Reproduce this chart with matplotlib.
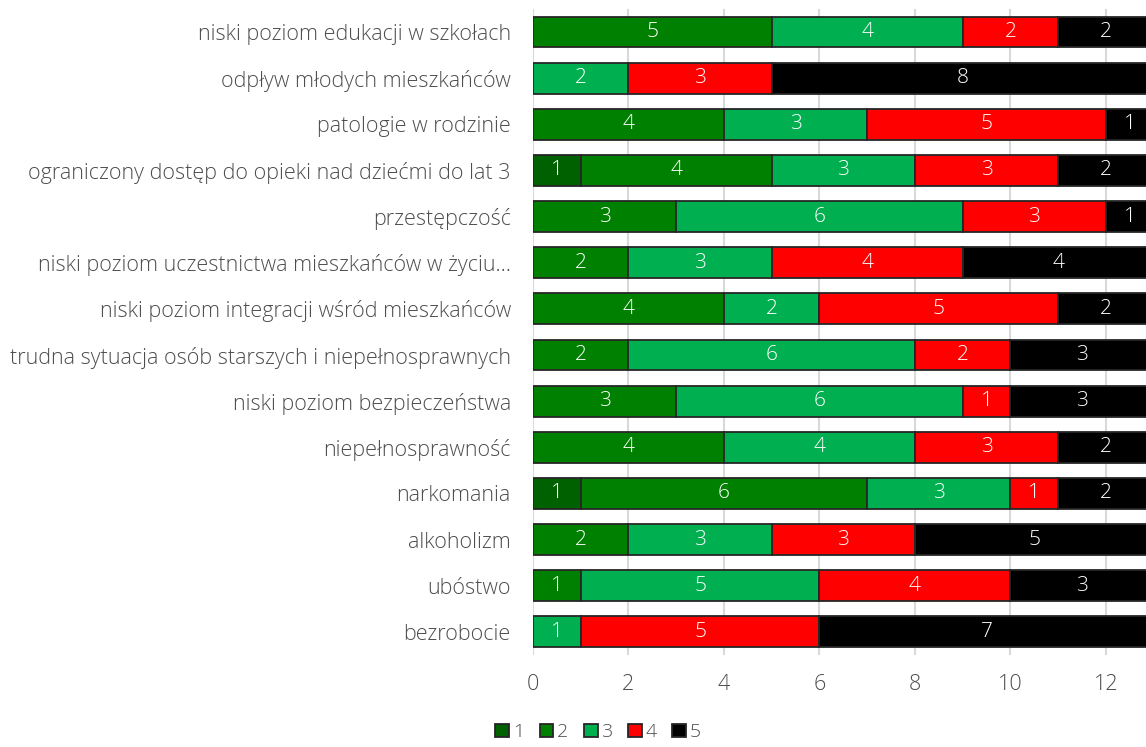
import matplotlib
matplotlib.use('Agg')
import matplotlib.pyplot as plt
import numpy as np

# categories top to bottom
CATEGORIES = ['niski poziom edukacji w szkołach',
              'odpływ młodych mieszkańców',
              'patologie w rodzinie',
              'ograniczony dostęp do opieki nad dziećmi do lat 3',
              'przestępczość',
              'niski poziom uczestnictwa mieszkańców w życiu…',
              'niski poziom integracji wśród mieszkańców',
              'trudna sytuacja osób starszych i niepełnosprawnych',
              'niski poziom bezpieczeństwa',
              'niepełnosprawność',
              'narkomania',
              'alkoholizm',
              'ubóstwo',
              'bezrobocie']

SERIES = ['1', '2', '3', '4', '5']
S1 = [0, 0, 0, 1, 0, 0, 0, 0, 0, 0, 1, 0, 0, 0]
S2 = [5, 0, 4, 4, 3, 2, 4, 2, 3, 4, 6, 2, 1, 0]
S3 = [4, 2, 3, 3, 6, 3, 2, 6, 6, 4, 3, 3, 5, 1]
S4 = [2, 3, 5, 3, 3, 4, 5, 2, 1, 3, 1, 3, 4, 5]
S5 = [2, 8, 1, 2, 1, 4, 2, 3, 3, 2, 2, 5, 3, 7]

COLORS = ['#006100', '#008000', '#00B050', '#FF0000', '#000000']
TEXT_GRAY = '#4d4d4d'
FS = 15.5

plt.rcParams['font.family'] = ['Open Sans', 'DejaVu Sans']
plt.rcParams['font.weight'] = 'light'

fig = plt.figure(figsize=(11.46, 7.47), dpi=100)
ax = fig.add_axes([0.4651, 0.1232, 0.5349, 0.8648])

y = np.arange(len(CATEGORIES))
left = np.zeros(len(CATEGORIES))
for name, vals, col in zip(SERIES, [S1, S2, S3, S4, S5], COLORS):
    vals = np.array(vals, dtype=float)
    ax.barh(y, vals, left=left, height=0.67, color=col, edgecolor='#262626',
            linewidth=1.3, label=name, zorder=3)
    for yi, l, v in zip(y, left, vals):
        if v > 0:
            ax.text(l + v / 2, yi, '%d' % v, ha='center', va='center',
                    color='white', fontsize=15, zorder=4)
    left += vals

ax.set_ylim(len(CATEGORIES) - 0.5, -0.5)
ax.set_xlim(0, 12.84)
ax.set_yticks(y)
ax.set_yticklabels(CATEGORIES, fontsize=FS, color=TEXT_GRAY)
ax.set_xticks([0, 2, 4, 6, 8, 10, 12])
ax.tick_params(axis='x', labelsize=FS, labelcolor=TEXT_GRAY, length=0, pad=14)
ax.tick_params(axis='y', length=0, pad=16)
ax.grid(axis='x', color='#d9d9d9', linewidth=1.5, zorder=0)
for s in ax.spines.values():
    s.set_visible(False)

leg = fig.legend(loc='lower center', bbox_to_anchor=(0.522, -0.016), ncol=5,
                 frameon=False, fontsize=14, handlelength=0.7, handleheight=0.7,
                 handletextpad=0.2, columnspacing=0.8)
for t in leg.get_texts():
    t.set_color(TEXT_GRAY)

fig.savefig('out.png', dpi=100)
